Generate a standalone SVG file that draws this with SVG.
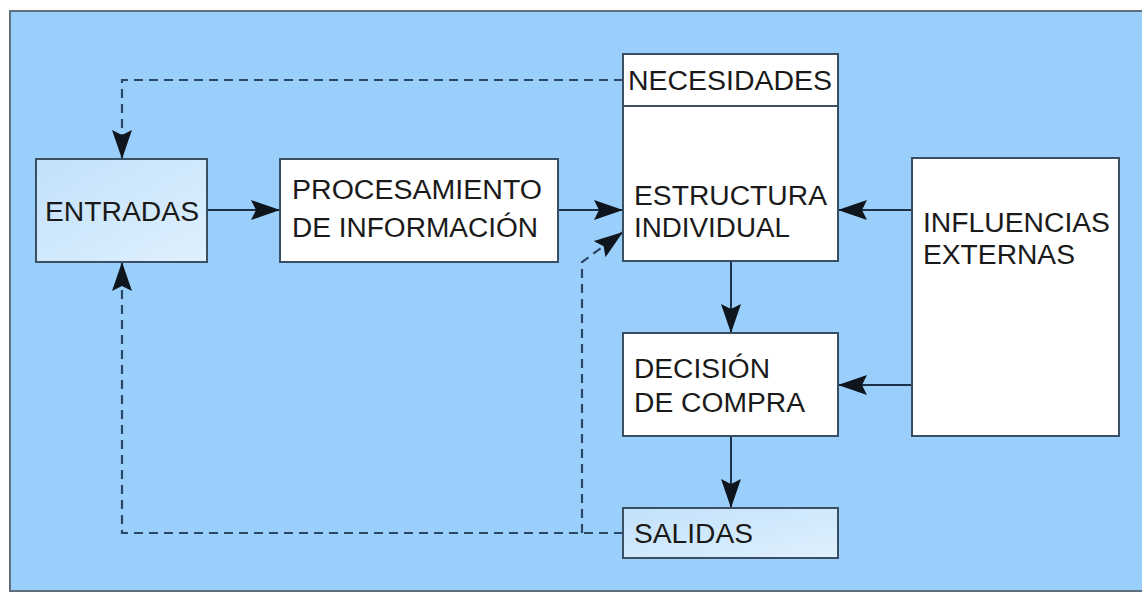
<svg xmlns="http://www.w3.org/2000/svg" width="1142" height="592" viewBox="0 0 1142 592">
<defs>
<linearGradient id="lb" x1="0" y1="0" x2="1" y2="1">
<stop offset="0" stop-color="#c2e1fb"/>
<stop offset="1" stop-color="#dff0fd"/>
</linearGradient>
<marker id="ah" markerUnits="userSpaceOnUse" markerWidth="32" markerHeight="22" refX="29" refY="10" orient="auto">
<path d="M0,0 L29,10 L0,20 L5,10 z" fill="#0f151c"/>
</marker>
<style>
.box{stroke:#3b4f63;stroke-width:2}
.w{fill:#ffffff}
.l{fill:url(#lb)}
.t{font-family:"Liberation Sans",Arial,sans-serif;font-size:27px;fill:#1a1a1a}
.c{fill:none;stroke:#1d3248;stroke-width:2}
.d{fill:none;stroke:#2a4866;stroke-width:2.2;stroke-dasharray:9 6}
</style>
</defs>
<rect x="10" y="11" width="1140" height="580" fill="#9bcffb" stroke="#5f6f7e" stroke-width="2"/>
<g id="connectors">
<line class="c" x1="207" y1="210" x2="280" y2="210" marker-end="url(#ah)"/>
<line class="c" x1="558" y1="210" x2="623" y2="210" marker-end="url(#ah)"/>
<line class="c" x1="912" y1="210" x2="838" y2="210" marker-end="url(#ah)"/>
<line class="c" x1="912" y1="385" x2="838" y2="385" marker-end="url(#ah)"/>
<line class="c" x1="731" y1="261" x2="731" y2="333" marker-end="url(#ah)"/>
<line class="c" x1="731" y1="436" x2="731" y2="508" marker-end="url(#ah)"/>
<path class="d" d="M623,80 H122 V159" marker-end="url(#ah)"/>
<path class="d" d="M623,533 H122 V262" marker-end="url(#ah)"/>
<path class="d" d="M582,533 V262 L623,232" marker-end="url(#ah)"/>
</g>
<g id="entradas">
<rect class="box l" x="36" y="159" width="171" height="103"/>
<text class="t" x="45" y="221" textLength="154" lengthAdjust="spacingAndGlyphs">ENTRADAS</text>
</g>
<g id="procesamiento">
<rect class="box w" x="280" y="159" width="278" height="103"/>
<text class="t" x="292" y="199" textLength="250" lengthAdjust="spacingAndGlyphs">PROCESAMIENTO</text>
<text class="t" x="292" y="237" textLength="246" lengthAdjust="spacingAndGlyphs">DE INFORMACIÓN</text>
</g>
<g id="estructura">
<rect class="box w" x="623" y="54" width="215" height="207"/>
<line class="box" x1="623" y1="106" x2="838" y2="106"/>
<text class="t" x="628" y="90" textLength="204" lengthAdjust="spacingAndGlyphs">NECESIDADES</text>
<text class="t" x="634" y="205" textLength="193" lengthAdjust="spacingAndGlyphs">ESTRUCTURA</text>
<text class="t" x="634" y="237" textLength="156" lengthAdjust="spacingAndGlyphs">INDIVIDUAL</text>
</g>
<g id="decision">
<rect class="box w" x="623" y="333" width="215" height="103"/>
<text class="t" x="634" y="378" textLength="136" lengthAdjust="spacingAndGlyphs">DECISIÓN</text>
<text class="t" x="634" y="412" textLength="171" lengthAdjust="spacingAndGlyphs">DE COMPRA</text>
</g>
<g id="salidas">
<rect class="box l" x="623" y="508" width="215" height="50"/>
<text class="t" x="634" y="543" textLength="119" lengthAdjust="spacingAndGlyphs">SALIDAS</text>
</g>
<g id="influencias">
<rect class="box w" x="912" y="158" width="207" height="278"/>
<text class="t" x="923" y="232" textLength="187" lengthAdjust="spacingAndGlyphs">INFLUENCIAS</text>
<text class="t" x="923" y="264" textLength="152" lengthAdjust="spacingAndGlyphs">EXTERNAS</text>
</g>
</svg>
